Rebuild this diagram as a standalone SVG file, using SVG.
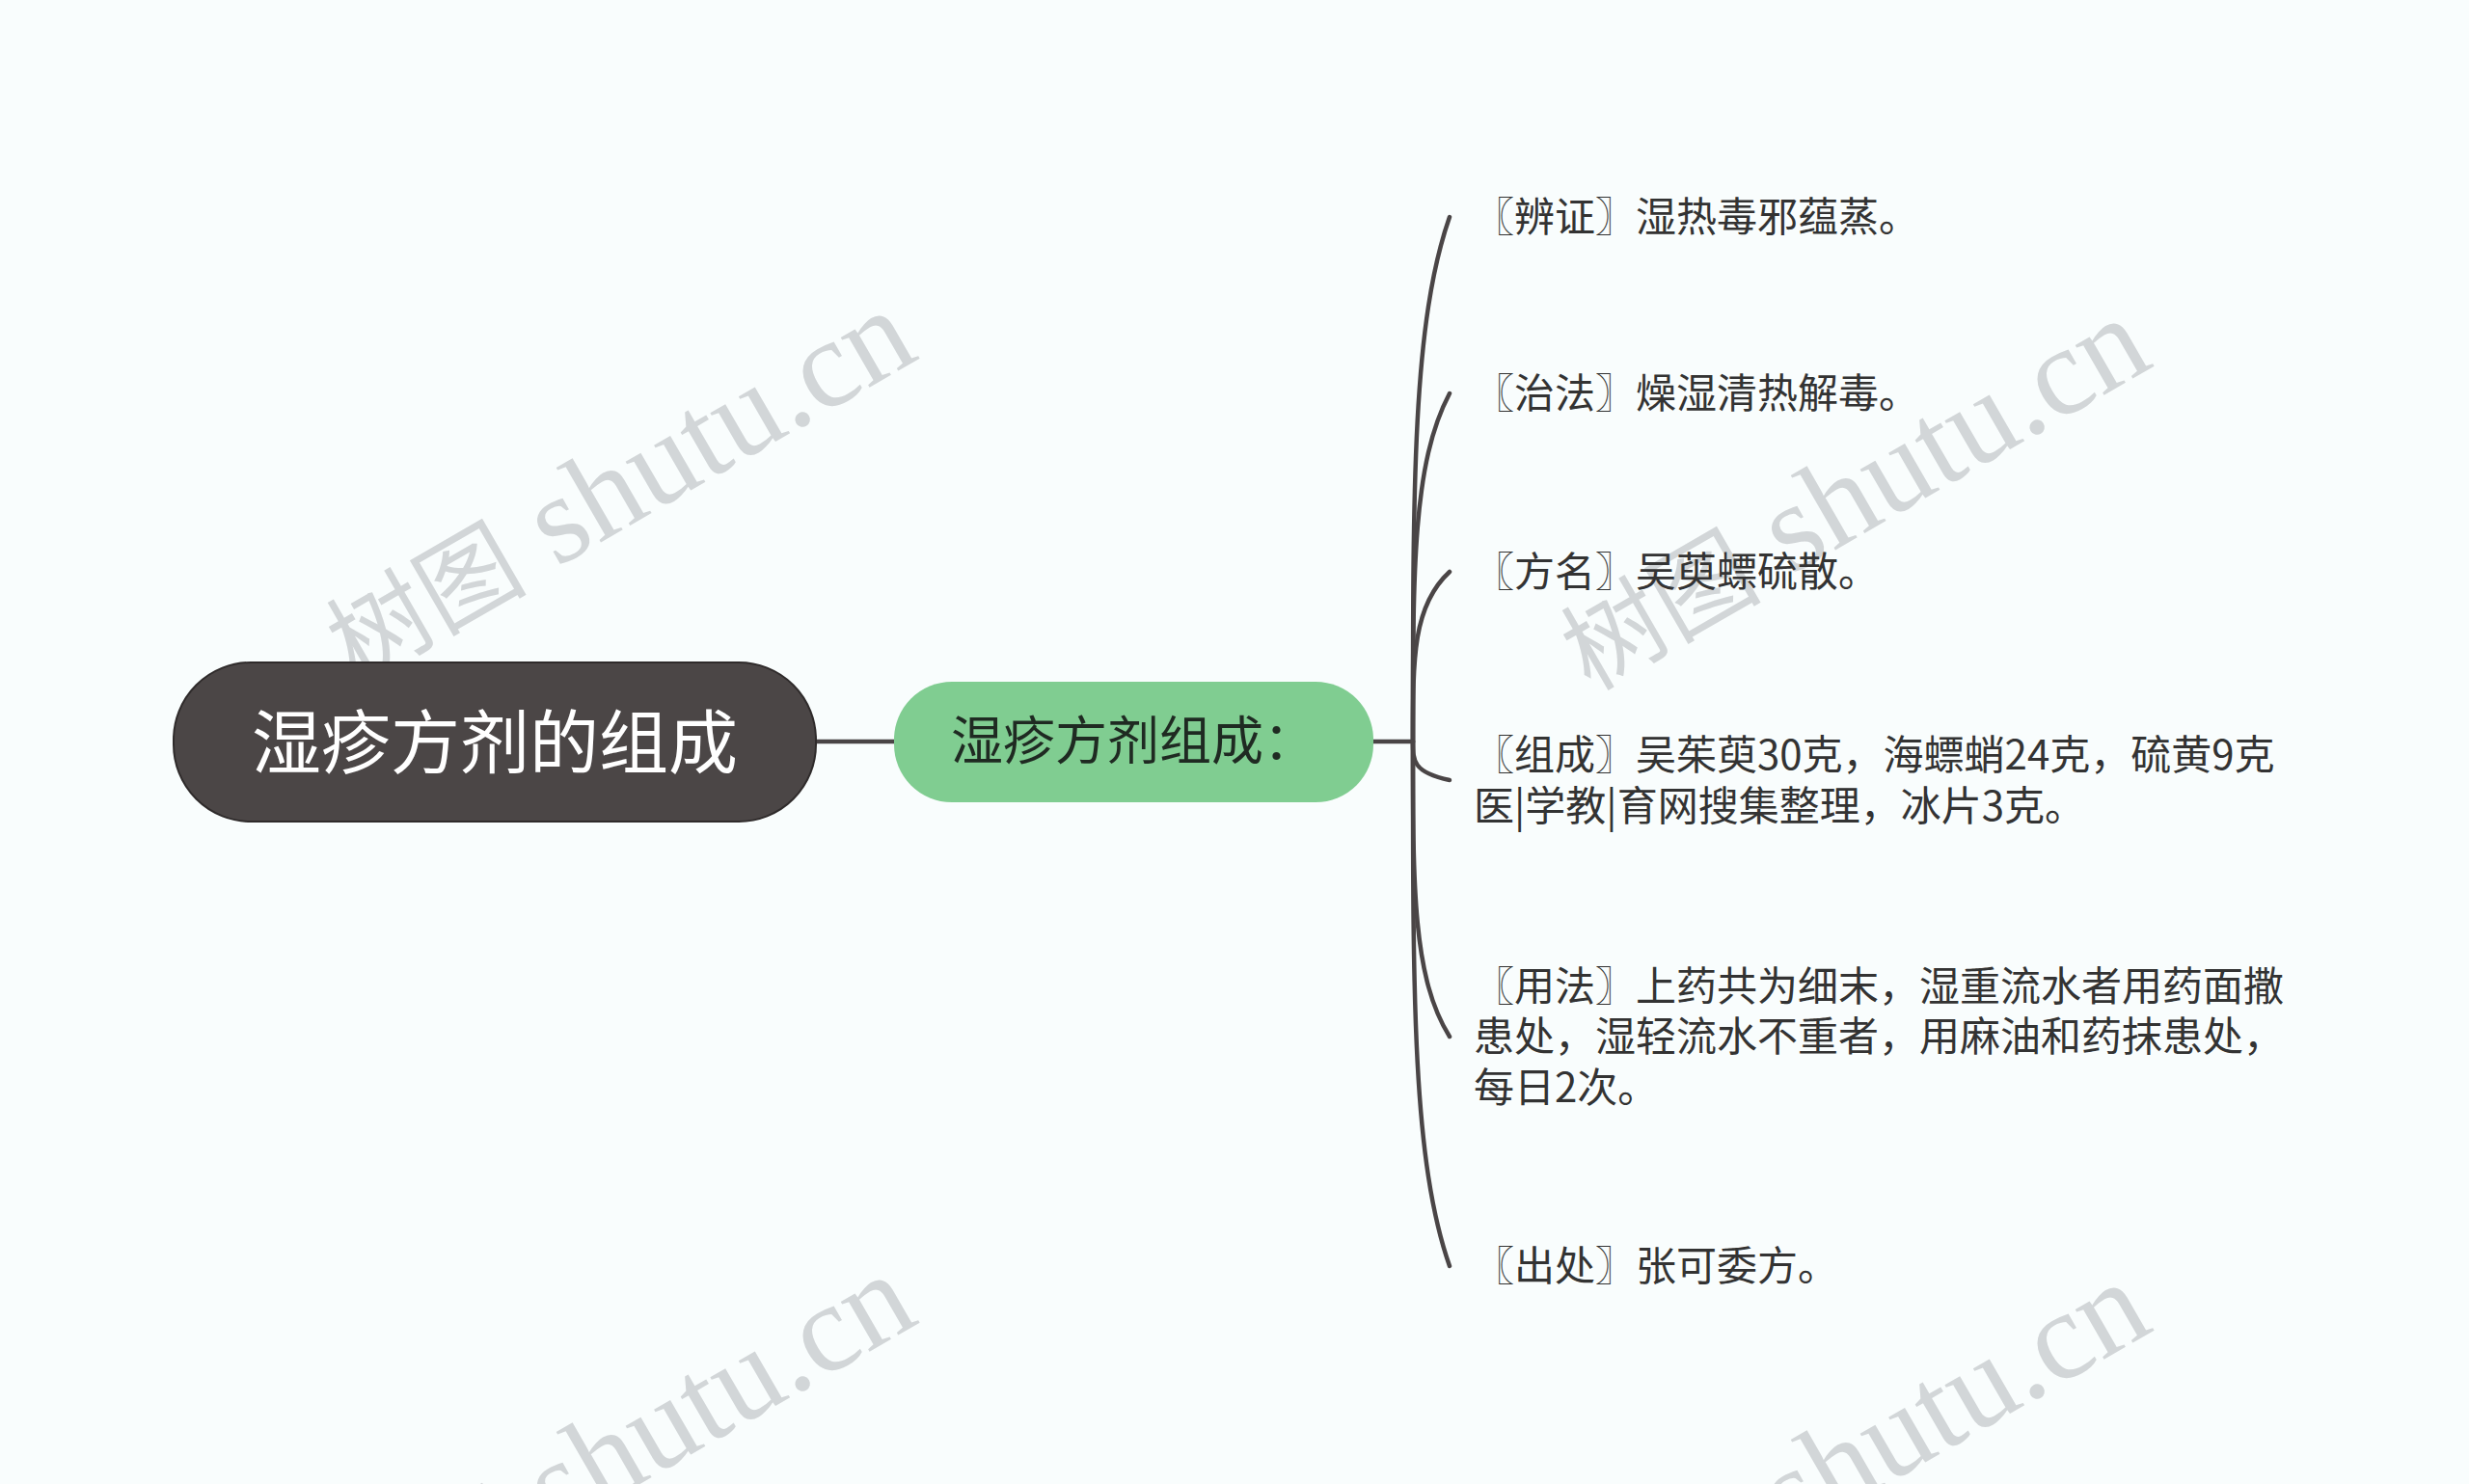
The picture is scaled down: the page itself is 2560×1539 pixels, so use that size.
<svg xmlns="http://www.w3.org/2000/svg" width="2560" height="1539" viewBox="0 0 2560 1539">
<style>
.wm{font-family:"Liberation Serif","Noto Sans CJK SC",serif;font-size:130px;fill:#d2d6d8;text-anchor:middle}
.wm .cjk{font-size:104px;font-family:"Noto Sans CJK SC",serif}
.conn{fill:none;stroke:#4a4546;stroke-width:4.5;stroke-linecap:round}
.leaf{font-family:"Noto Sans CJK SC","Noto Sans",sans-serif;font-size:42px;fill:#333333}
</style>
<rect width="2560" height="1539" fill="#f9fdfd"/>
<g id="watermarks">
<text class="wm" transform="translate(662,540) rotate(-30)"><tspan class="cjk">树图</tspan> shutu.cn</text>
<text class="wm" transform="translate(1942,548) rotate(-30)"><tspan class="cjk">树图</tspan> shutu.cn</text>
<text class="wm" transform="translate(662,1540) rotate(-30)"><tspan class="cjk">树图</tspan> shutu.cn</text>
<text class="wm" transform="translate(1942,1548) rotate(-30)"><tspan class="cjk">树图</tspan> shutu.cn</text>
</g>
<g id="connectors">
<path class="conn" d="M846 769 H927"/>
<path class="conn" d="M1424 769 H1465"/>
<path class="conn" d="M1465 769 C1465 497 1465 334 1503 225"/>
<path class="conn" d="M1465 769 C1465 588 1465 480 1503 408"/>
<path class="conn" d="M1465 769 C1465 681 1465 628 1503 593"/>
<path class="conn" d="M1465 769 C1465 789 1465 801 1503 809"/>
<path class="conn" d="M1465 769 C1465 922 1465 1014 1503 1075"/>
<path class="conn" d="M1465 769 C1465 1041 1465 1204 1503 1313"/>
</g>
<g id="root">
<rect x="180" y="687" width="666" height="165" rx="80" ry="80" fill="#4b4646" stroke="#2f2b2b" stroke-width="2"/>
<text x="513" y="796" text-anchor="middle" font-family="Noto Sans CJK SC, Noto Sans, sans-serif" font-size="72" fill="#ffffff">湿疹方剂的组成</text>
</g>
<g id="sub">
<rect x="927" y="707" width="497" height="125" rx="60" ry="60" fill="#80cd91"/>
<text x="1175" y="788" text-anchor="middle" font-family="Noto Sans CJK SC, Noto Sans, sans-serif" font-size="54" fill="#1f2a22">湿疹方剂组成：</text>
</g>
<g id="leaf1"><text class="leaf" x="1528" y="240">〖辨证〗湿热毒邪蕴蒸。</text></g>
<g id="leaf2"><text class="leaf" x="1528" y="423">〖治法〗燥湿清热解毒。</text></g>
<g id="leaf3"><text class="leaf" x="1528" y="608">〖方名〗吴萸螵硫散。</text></g>
<g id="leaf4"><text class="leaf" x="1528" y="798">〖组成〗吴茱萸30克，海螵蛸24克，硫黄9克</text><text class="leaf" x="1528" y="850.5">医|学教|育网搜集整理，冰片3克。</text></g>
<g id="leaf5"><text class="leaf" x="1528" y="1037.5">〖用法〗上药共为细末，湿重流水者用药面撒</text><text class="leaf" x="1528" y="1090">患处，湿轻流水不重者，用麻油和药抹患处，</text><text class="leaf" x="1528" y="1142.5">每日2次。</text></g>
<g id="leaf6"><text class="leaf" x="1528" y="1328">〖出处〗张可委方。</text></g>
</svg>
